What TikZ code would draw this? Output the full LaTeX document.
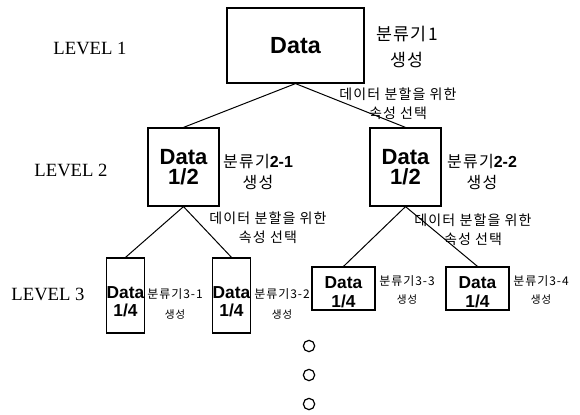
\documentclass[tikz,border=0pt]{standalone}
\usepackage{fontspec}
\setmainfont{Liberation Serif}
\newfontfamily\arialfont{Liberation Sans}
\newfontfamily\krfont[LetterSpace=8]{Noto Sans CJK KR}

\begin{document}
\begin{tikzpicture}[
    x=0.75pt,y=-0.75pt,
    box/.style={draw, line width=0.9pt, inner sep=0pt, align=center, font=\arialfont\bfseries},
    edge/.style={line width=0.75pt},
    lvl/.style={inner sep=0pt, font=\fontsize{14}{16}\selectfont},
    note/.style={inner sep=0pt, align=center, font=\krfont\fontsize{13}{20}\selectfont},
    split/.style={inner sep=0pt, align=center, font=\krfont\fontsize{10.5}{14}\selectfont},
    small/.style={inner sep=0pt, align=center, font=\krfont\fontsize{9}{15}\selectfont},
    dot/.style={draw, circle, line width=0.9pt, inner sep=0pt, minimum size=8.5pt}
    ]
    \useasboundingbox (0, 0) rectangle (580, 414);
    \node[lvl] (lvl1) at (90, 48) {LEVEL 1};
    \node[lvl] (lvl2) at (71, 170) {LEVEL 2};
    \node[lvl] (lvl3) at (48, 294) {LEVEL 3};
    \node[box, minimum width=102.75pt, minimum height=56.25pt, font=\arialfont\bfseries\fontsize{17.5}{17}\selectfont] (root) at (295.5, 45.5) {Data};
    \node[note] (lab1) at (407, 47) {분류기1\\생성};
    \node[split] (sp1) at (398, 104) {데이터 분할을 위한\\속성 선택};
    \node[box, minimum width=53.25pt, minimum height=58.5pt, font=\arialfont\bfseries\fontsize{16.5}{15}\selectfont] (l2a) at (183.5, 167) {Data\\1/2};
    \node[box, minimum width=53.25pt, minimum height=58.5pt, font=\arialfont\bfseries\fontsize{16.5}{15}\selectfont] (l2b) at (405.5, 167) {Data\\1/2};
    \node[note, font=\krfont\fontsize{12}{16}\selectfont] (lab2a) at (258, 172) {분류기{\arialfont\bfseries 2-1}\\생성};
    \node[note, font=\krfont\fontsize{12}{16}\selectfont] (lab2b) at (482, 172) {분류기{\arialfont\bfseries 2-2}\\생성};
    \node[split] (sp2) at (268, 228) {데이터 분할을 위한\\속성 선택};
    \node[split] (sp3) at (473, 230) {데이터 분할을 위한\\속성 선택};
    \node[box, minimum width=27.75pt, minimum height=56.25pt, font=\arialfont\bfseries\fontsize{13}{14}\selectfont] (l3a) at (125.5, 295.5) {\rule{0pt}{18pt}Data\\1/4};
    \node[box, minimum width=27.75pt, minimum height=56.25pt, font=\arialfont\bfseries\fontsize{13}{14}\selectfont] (l3b) at (231.5, 295.5) {\rule{0pt}{18pt}Data\\1/4};
    \node[box, minimum width=47.25pt, minimum height=32.25pt, font=\arialfont\bfseries\fontsize{13}{14}\selectfont] (l3c) at (343.5, 288.5) {\rule{0pt}{14pt}Data\\1/4};
    \node[box, minimum width=47.25pt, minimum height=32.25pt, font=\arialfont\bfseries\fontsize{13}{14}\selectfont] (l3d) at (477.5, 288.5) {\rule{0pt}{14pt}Data\\1/4};
    \node[small] (lab3a) at (175, 304) {분류기3-1\\{\fontsize{8}{8}\selectfont 생성}};
    \node[small] (lab3b) at (282, 304) {분류기3-2\\{\fontsize{8}{8}\selectfont 생성}};
    \node[small, font=\krfont\fontsize{9}{13}\selectfont] (lab3c) at (407, 290) {분류기3-3\\{\fontsize{8}{8}\selectfont 생성}};
    \node[small, font=\krfont\fontsize{9}{13}\selectfont] (lab3d) at (541, 290) {분류기3-4\\{\fontsize{8}{8}\selectfont 생성}};
    \draw[edge] (root.south) -- (l2a.north);
    \draw[edge] (root.south) -- (l2b.north);
    \draw[edge] (l2a.south) -- (l3a.north);
    \draw[edge] (l2a.south) -- (l3b.north);
    \draw[edge] (l2b.south) -- (l3c.north);
    \draw[edge] (l2b.south) -- (l3d.north);
    \node[dot] (d1) at (309, 346) {};
    \node[dot] (d2) at (309, 375) {};
    \node[dot] (d3) at (309, 404) {};
  \end{tikzpicture}
\end{document}
